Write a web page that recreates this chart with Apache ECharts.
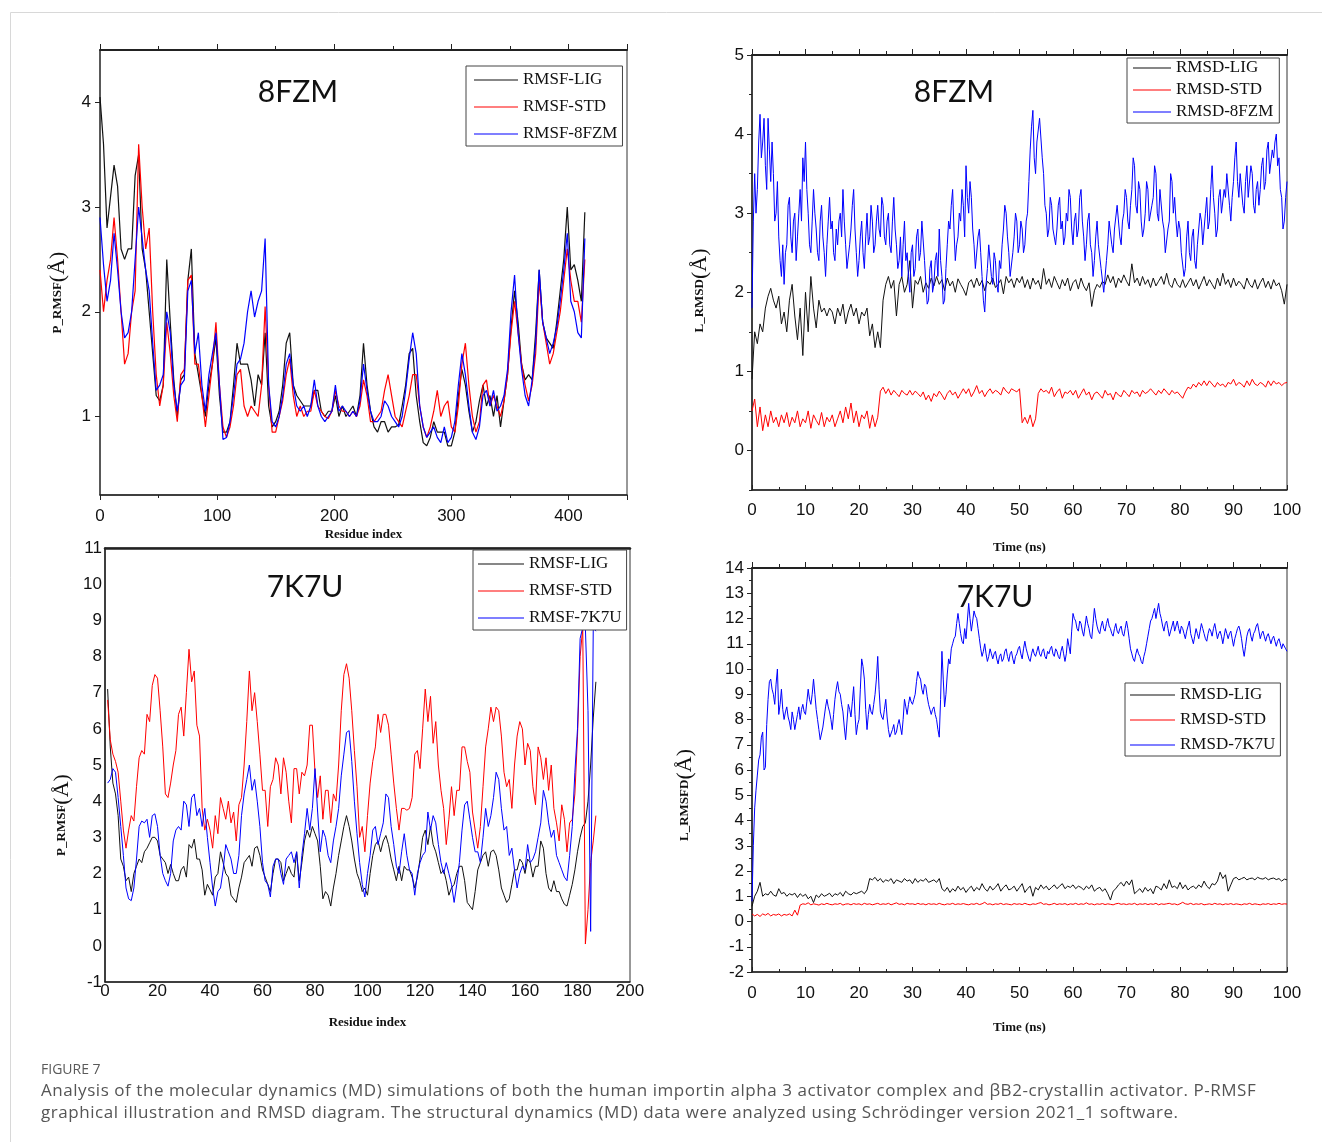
<!DOCTYPE html>
<html><head><meta charset="utf-8">
<script src="https://cdn.jsdelivr.net/npm/echarts@6.0.0/dist/echarts.min.js"></script>
<style>
html,body{margin:0;padding:0;background:#fff}
#wrap{position:relative;width:1322px;height:1142px}
#c{width:1322px;height:1142px}
#cap{position:absolute;left:41px;top:1059px;font-family:"Open Sans",sans-serif;color:#555;white-space:nowrap}
#cap .h{font-size:14px;line-height:20px;color:#5a5a5a}
#cap .t{font-size:17px;line-height:22px;letter-spacing:0.55px}
</style>
</head><body><div id="wrap"><div id="c"></div><div id="cap"></div></div>
<script>
// ---------- Panel A: P_RMSF 8FZM (residue index, every 3rd residue 0..414) ----------
const res8 = Array.from({length:139}, (_, i) => i * 3);
const rmsfLig8 = [4.05,3.6,2.8,3.1,3.4,3.2,2.6,2.5,2.6,2.6,
3.3,3.5,2.6,2.4,2.0,1.6,1.2,1.15,1.3,2.5,
1.9,1.35,1.0,1.35,1.4,2.3,2.6,1.6,1.4,1.2,
1.0,1.3,1.5,1.75,1.2,0.85,0.85,0.95,1.3,1.7,
1.5,1.5,1.5,1.35,1.1,1.4,1.3,1.8,1.1,0.9,
0.95,1.05,1.3,1.7,1.8,1.3,1.2,1.15,1.1,1.1,
1.1,1.25,1.25,1.05,1.0,1.05,1.05,1.2,1.0,1.1,
1.0,1.05,1.1,1.0,1.2,1.7,1.3,1.05,0.9,0.85,
0.95,0.95,0.85,0.9,0.9,0.92,1.1,1.3,1.6,1.65,
1.2,0.95,0.75,0.72,0.8,0.95,0.85,0.85,0.85,0.72,
0.72,0.85,1.2,1.45,1.3,1.05,0.85,0.95,1.15,1.3,
1.1,1.2,1.0,1.2,0.9,1.15,1.4,1.85,2.2,1.9,
1.5,1.35,1.4,1.35,1.8,2.4,1.9,1.75,1.7,1.65,
1.9,2.2,2.5,3.0,2.4,2.45,2.3,2.1,2.95];
const rmsfStd8 = [2.4,2.0,2.3,2.5,2.9,2.5,2.0,1.5,1.6,2.0,
2.2,3.6,3.0,2.6,2.8,2.0,1.4,1.1,1.3,1.9,
1.6,1.2,0.95,1.4,1.45,2.3,2.35,1.5,1.5,1.2,
0.9,1.2,1.5,1.9,1.3,0.9,0.8,0.9,1.1,1.4,
1.45,1.1,1.0,1.1,1.05,1.0,1.3,2.05,1.3,0.85,
0.85,1.0,1.15,1.4,1.55,1.2,1.0,1.1,1.0,1.05,
1.05,1.25,1.1,1.05,1.0,0.98,1.05,1.25,1.1,1.05,
1.05,1.0,1.05,1.0,1.1,1.35,1.2,0.95,0.95,1.0,
1.05,1.25,1.4,1.2,1.0,0.95,0.9,1.05,1.2,1.4,
1.4,1.1,0.9,0.8,0.9,1.05,1.25,1.0,1.1,1.15,
0.9,0.85,1.1,1.5,1.7,1.3,1.0,0.85,0.95,1.3,
1.35,1.1,1.2,1.1,1.0,1.15,1.4,1.8,2.1,1.8,
1.5,1.3,1.15,1.3,1.6,2.3,1.9,1.7,1.5,1.6,
1.8,2.0,2.3,2.6,2.3,2.1,2.1,1.9,2.5];
const rmsfProt8 = [2.9,2.45,2.1,2.3,2.75,2.4,2.0,1.75,1.8,2.0,
2.5,3.0,2.7,2.4,2.2,1.7,1.25,1.3,1.4,2.0,
1.8,1.3,1.05,1.3,1.35,2.2,2.3,1.6,1.8,1.3,
1.05,1.4,1.6,1.8,1.3,0.78,0.8,0.95,1.2,1.5,
1.55,1.7,2.0,2.2,1.95,2.1,2.2,2.7,1.3,0.95,
0.9,1.0,1.2,1.5,1.6,1.3,1.1,1.05,1.1,1.0,
1.1,1.35,1.1,1.0,0.95,1.0,1.05,1.3,1.05,1.1,
1.05,1.0,1.05,1.0,1.15,1.5,1.25,1.05,0.95,0.95,
1.0,1.15,1.1,1.0,0.95,0.9,1.0,1.25,1.55,1.8,
1.6,1.1,0.9,0.8,0.85,0.9,0.8,0.75,0.9,0.75,
0.8,0.95,1.3,1.6,1.4,1.1,0.85,0.78,0.9,1.2,
1.25,1.1,1.25,1.05,1.1,1.2,1.45,2.0,2.35,1.8,
1.45,1.2,1.1,1.35,1.7,2.4,1.9,1.75,1.6,1.7,
1.85,2.1,2.4,2.75,2.1,2.0,1.8,1.75,2.7];

// ---------- Panel B: L_RMSD 8FZM (time, ns) ----------
const timeNs = Array.from({length:201}, (_, i) => i * 0.5);     // 0.5 ns frames
const timeFine = Array.from({length:401}, (_, i) => i * 0.25);  // 0.25 ns frames
const rmsdLig8 = [0.9,1.5,1.35,1.6,1.5,1.8,1.95,2.05,1.9,1.8,
1.95,1.6,1.75,1.5,1.9,2.1,1.7,1.4,1.8,1.2,
2.0,1.5,2.2,1.8,1.55,1.9,1.75,1.8,1.7,1.8,
1.75,1.6,1.8,1.7,1.85,1.6,1.75,1.85,1.7,1.8,
1.6,1.75,1.7,1.8,1.45,1.6,1.3,1.5,1.3,1.9,
2.1,2.2,2.05,2.15,1.7,2.1,2.2,2.0,2.1,2.4,
1.8,2.15,2.1,2.2,2.0,2.12,2.05,2.18,2.08,2.2,
2.1,2.16,2.02,2.18,2.08,2.14,2.0,2.17,2.1,2.04,
1.96,2.12,2.16,2.06,2.18,2.08,2.15,2.02,2.14,2.1,
2.18,2.06,2.1,2.16,1.98,2.2,2.12,2.17,2.06,2.18,
2.12,2.2,2.06,2.16,2.04,2.18,2.1,2.15,2.04,2.3,
2.1,2.17,2.06,2.2,2.12,2.04,2.16,2.08,2.18,2.02,
2.12,2.16,2.04,2.18,2.08,2.02,2.12,1.82,2.02,2.1,
2.06,2.14,2.1,2.22,2.12,2.2,2.06,2.18,2.12,2.22,
2.14,2.08,2.36,2.12,2.18,2.08,2.2,2.1,2.16,2.06,
2.18,2.08,2.14,2.2,2.1,2.24,2.1,2.06,2.18,2.1,
2.06,2.16,2.06,2.12,2.18,2.08,2.16,2.04,2.12,2.2,
2.08,2.16,2.1,2.04,2.18,2.08,2.24,2.1,2.16,2.06,
2.18,2.08,2.14,2.1,2.04,2.18,2.1,2.06,2.16,2.04,
2.12,2.18,2.06,2.14,2.04,2.16,2.08,2.12,2.02,1.85,
2.1];
const rmsdStd8 = [0.5,0.65,0.3,0.55,0.25,0.45,0.3,0.5,0.35,0.42,
0.3,0.45,0.35,0.48,0.3,0.42,0.35,0.5,0.3,0.4,
0.35,0.5,0.28,0.45,0.38,0.32,0.48,0.3,0.42,0.36,
0.45,0.3,0.4,0.5,0.35,0.55,0.4,0.6,0.35,0.5,
0.3,0.45,0.4,0.5,0.28,0.45,0.3,0.42,0.75,0.8,
0.72,0.78,0.7,0.76,0.72,0.68,0.76,0.72,0.7,0.76,
0.7,0.75,0.72,0.68,0.74,0.64,0.7,0.62,0.72,0.68,
0.75,0.7,0.64,0.72,0.76,0.7,0.74,0.66,0.72,0.78,
0.72,0.78,0.68,0.74,0.82,0.72,0.76,0.68,0.74,0.78,
0.72,0.76,0.74,0.7,0.8,0.75,0.72,0.78,0.76,0.74,
0.78,0.35,0.42,0.34,0.45,0.3,0.4,0.72,0.78,0.74,
0.76,0.72,0.8,0.68,0.74,0.78,0.66,0.74,0.72,0.76,
0.7,0.76,0.66,0.72,0.78,0.7,0.74,0.64,0.72,0.74,
0.7,0.66,0.76,0.7,0.72,0.64,0.74,0.7,0.68,0.76,
0.72,0.68,0.76,0.72,0.74,0.68,0.76,0.72,0.74,0.78,
0.74,0.7,0.76,0.72,0.78,0.74,0.7,0.76,0.72,0.74,
0.7,0.66,0.74,0.8,0.78,0.84,0.8,0.86,0.82,0.88,
0.82,0.88,0.84,0.8,0.86,0.82,0.84,0.8,0.86,0.84,
0.9,0.82,0.86,0.84,0.8,0.88,0.82,0.9,0.84,0.82,
0.86,0.84,0.8,0.88,0.82,0.88,0.84,0.86,0.82,0.85,
0.86];
const rmsdProt8 = [1.8,2.9,3.5,3.0,3.3,3.9,4.25,3.7,3.9,4.2,3.6,3.3,4.2,3.8,3.4,3.9,3.5,2.9,3.0,3.4,
2.7,2.4,2.2,2.6,2.1,2.5,2.6,3.1,3.2,2.7,2.5,2.9,3.0,2.4,2.7,3.0,3.3,2.9,3.7,3.4,
3.9,3.3,3.0,2.6,2.5,2.9,3.3,3.0,2.8,2.5,2.4,2.9,3.1,2.7,2.5,2.2,2.6,2.9,3.2,2.8,
2.9,2.5,2.4,2.8,2.6,2.9,3.0,2.7,3.3,2.9,2.6,2.3,2.3,2.6,2.8,3.1,3.3,2.8,2.5,2.2,
2.4,2.7,2.9,2.5,2.3,2.7,3.0,2.6,2.7,3.1,2.9,2.5,2.6,2.9,3.1,2.8,2.7,3.2,3.1,2.7,
2.6,2.9,3.0,2.6,2.5,2.9,3.2,2.8,2.6,2.3,2.4,2.7,2.2,2.6,2.9,2.4,2.5,2.2,2.0,2.5,
2.6,2.2,2.3,2.7,2.8,2.4,2.5,2.9,2.9,2.4,2.1,1.85,1.9,2.3,2.4,2.0,2.1,2.4,2.5,2.2,
2.8,2.4,2.2,1.85,1.9,2.3,2.6,2.9,2.8,3.1,3.3,2.8,2.4,2.6,2.7,3.0,2.9,3.3,3.1,2.7,
3.6,3.2,3.0,3.4,3.2,2.8,2.6,2.3,2.3,2.7,2.8,2.5,2.2,1.9,1.75,2.1,2.3,2.6,2.6,2.2,
2.1,2.5,2.4,2.1,2.0,2.4,2.3,2.6,2.8,3.1,3.0,2.7,2.5,2.2,2.2,2.5,2.7,3.0,2.9,2.5,
2.6,2.9,2.8,2.5,2.6,2.9,3.0,3.4,3.8,4.1,4.3,3.7,3.5,3.9,3.9,4.2,4.2,3.7,3.5,3.1,
3.0,2.7,2.8,3.2,3.1,2.8,2.7,2.6,2.8,3.1,3.2,2.8,2.9,2.6,2.7,3.0,2.9,3.3,3.2,2.8,
2.6,2.9,3.0,2.7,2.8,3.2,3.3,2.9,2.7,2.4,2.6,2.9,3.0,2.6,2.5,2.2,2.4,2.7,2.9,2.6,
2.6,2.3,2.3,2.0,2.0,2.4,2.6,2.9,2.9,2.6,2.5,2.8,2.8,3.1,3.1,2.7,2.6,2.9,3.0,3.3,
3.2,2.9,2.8,3.1,3.3,3.7,3.6,3.1,3.0,3.4,3.3,2.9,2.7,2.8,3.0,3.4,3.3,2.9,2.9,3.1,
3.2,3.6,3.5,3.0,2.9,3.3,3.3,2.9,2.8,2.5,2.5,2.8,2.9,3.5,3.4,3.0,3.2,2.9,2.7,2.9,
2.8,2.5,2.5,2.2,2.3,2.7,2.9,2.5,2.4,2.7,2.8,2.4,2.3,2.6,2.6,3.0,2.9,2.6,2.6,3.0,
3.2,2.8,2.9,3.3,3.6,3.2,3.0,2.7,2.8,3.2,3.3,3.0,3.0,3.3,3.2,3.5,3.5,3.1,2.9,3.2,
3.4,3.7,3.9,3.4,3.2,3.5,3.5,3.1,3.0,3.4,3.6,3.2,3.2,3.6,3.5,3.1,3.0,3.3,3.4,3.1,
3.3,3.6,3.7,3.3,3.4,3.8,3.9,3.5,3.5,3.8,3.7,3.9,4.0,3.6,3.7,3.3,3.2,2.8,2.9,3.2,
3.4];

// ---------- Panel C: P_RMSF 7K7U (residue 1..187) ----------
const res7 = Array.from({length:187}, (_, i) => i + 1);
const rmsfLig7 = [7.1,5.5,4.5,4.2,3.6,2.4,2.2,1.8,1.9,1.5,
2.0,2.2,2.4,2.3,2.6,2.7,2.85,3.0,3.0,2.9,
2.5,2.4,2.3,2.0,2.25,2.0,1.8,1.8,2.1,2.2,
1.9,2.8,2.7,2.95,2.4,2.4,2.1,1.4,1.7,1.55,
1.4,1.9,2.0,2.6,2.3,2.0,1.9,1.4,1.3,1.2,
1.6,1.9,2.3,2.4,2.5,2.2,2.7,2.75,2.5,2.1,
1.9,1.7,1.5,2.0,2.4,2.4,2.3,1.8,2.0,2.2,
2.0,1.9,2.6,1.8,2.3,2.9,3.2,3.0,3.3,3.1,
2.9,2.2,1.3,1.5,1.4,1.1,1.6,2.0,2.5,2.9,
3.3,3.6,3.3,2.9,2.4,2.0,1.8,1.5,1.6,1.4,
2.0,2.5,2.8,2.9,2.6,2.9,3.05,2.8,2.4,2.1,
1.8,2.2,1.8,2.2,2.1,2.1,1.9,1.6,1.9,2.4,
3.0,3.2,2.8,3.3,2.8,2.6,2.3,2.0,2.1,1.8,
1.4,1.6,1.7,2.0,2.2,2.2,1.8,1.2,1.1,1.0,
1.5,2.1,2.3,2.5,2.6,2.2,2.6,2.65,2.5,2.1,
1.6,1.4,1.2,1.3,1.7,2.1,2.1,2.4,2.3,2.0,
2.4,2.3,1.9,2.2,2.2,2.9,2.7,2.0,1.6,1.5,
1.8,1.5,1.5,1.3,1.15,1.1,1.4,1.7,2.1,2.6,
3.0,3.3,3.4,4.0,5.0,6.3,7.3];
const rmsfStd7 = [6.8,5.7,5.3,5.1,4.8,4.0,3.2,2.7,3.2,3.6,
3.45,4.4,5.2,5.4,5.3,6.4,6.2,7.2,7.5,7.4,
6.5,5.5,4.2,4.1,4.5,5.0,5.4,6.4,6.6,5.8,
7.0,8.2,7.3,7.6,6.1,5.8,3.8,3.2,3.5,3.2,
2.7,3.6,3.1,4.1,3.8,3.5,4.0,3.4,3.7,2.9,
3.9,4.1,5.0,6.2,7.6,6.5,7.0,6.2,5.3,4.3,
4.3,3.3,4.4,4.6,5.2,5.0,4.2,5.2,4.8,4.0,
3.4,4.9,4.9,4.2,4.8,4.7,5.0,6.1,6.1,4.8,
4.1,4.7,3.5,4.3,4.3,3.4,4.2,4.0,5.0,6.5,
7.5,7.8,7.4,6.5,5.4,4.4,3.0,3.3,2.6,3.6,
4.5,5.1,5.5,6.4,5.9,6.4,6.4,6.1,5.3,4.5,
3.8,3.2,3.8,3.8,3.75,3.8,4.1,5.3,5.4,4.9,
6.0,7.1,6.2,6.9,5.6,6.2,5.0,4.3,3.8,2.8,
3.5,4.4,3.6,4.3,4.3,5.5,5.5,5.1,4.8,3.7,
3.2,2.7,3.3,4.4,5.5,6.0,6.6,6.2,6.6,6.5,
5.8,4.8,4.4,4.6,3.8,5.0,5.8,6.2,6.0,5.0,
5.6,5.4,4.4,3.9,5.5,5.2,4.6,5.2,4.3,5.0,
3.8,3.4,2.9,3.9,3.5,2.6,3.4,3.5,4.2,5.8,
8.0,8.8,0.05,1.0,2.3,2.9,3.6];
const rmsfProt7 = [4.5,4.6,4.9,4.8,4.1,3.3,2.5,1.6,1.3,1.25,
1.6,2.4,3.3,3.45,3.4,3.5,3.0,3.6,3.65,3.3,
2.5,2.0,1.8,1.65,2.0,2.9,3.2,3.3,3.2,4.0,
3.9,3.3,4.1,4.2,3.6,3.8,3.3,3.8,3.0,2.3,
1.6,1.1,1.5,1.6,2.1,2.8,2.6,2.4,2.0,2.0,
2.5,3.6,4.2,4.6,5.0,4.3,4.6,4.0,3.3,2.3,
1.8,1.7,1.35,2.2,2.4,2.4,2.0,1.7,2.4,2.5,
2.6,2.3,2.6,1.6,2.5,3.1,3.8,3.2,3.8,4.9,
3.7,2.6,3.2,3.0,2.5,2.3,2.9,3.3,3.8,4.7,
5.3,5.9,5.95,5.1,4.0,3.1,2.3,1.7,1.35,2.0,
2.5,3.2,3.3,2.8,3.1,3.4,4.2,4.1,3.3,2.8,
2.2,2.0,2.6,3.1,2.5,2.1,2.0,1.4,2.0,2.3,
2.5,2.6,3.7,3.2,3.6,3.4,2.8,2.3,2.0,2.3,
2.0,1.7,1.2,1.7,2.3,3.2,3.9,4.0,3.5,3.0,
2.6,2.6,2.3,3.0,3.8,3.3,3.6,4.1,4.8,4.6,
3.8,3.2,3.3,2.5,2.7,2.1,1.6,2.0,2.2,2.1,
2.8,2.3,2.4,2.6,3.0,3.4,4.3,4.0,3.4,3.0,
3.2,2.5,2.3,2.1,1.9,1.8,2.5,3.3,4.8,6.0,
8.5,8.8,8.8,6.5,0.4,8.8,8.7];

// ---------- Panel D: L_RMSD 7K7U (time, ns) ----------
const rmsdLig7 = [0.6,1.0,1.2,1.55,1.0,1.1,1.05,1.2,1.05,1.0,
1.3,1.1,1.15,1.0,1.1,1.05,1.12,0.95,1.1,1.0,
1.08,0.9,1.0,0.75,1.05,0.95,1.1,1.0,1.05,1.12,
0.98,1.1,1.05,1.15,1.0,1.2,1.1,1.05,1.15,1.1,
1.15,1.2,1.1,1.25,1.7,1.65,1.75,1.6,1.7,1.55,
1.65,1.6,1.7,1.5,1.65,1.6,1.55,1.7,1.6,1.65,
1.5,1.7,1.55,1.65,1.6,1.7,1.55,1.6,1.65,1.55,
1.7,1.3,1.2,1.35,1.15,1.3,1.2,1.4,1.25,1.35,
1.15,1.3,1.4,1.2,1.35,1.25,1.5,1.3,1.2,1.4,
1.25,1.35,1.5,1.2,1.35,1.45,1.25,1.3,1.4,1.2,
1.35,1.5,1.15,1.3,1.4,1.0,1.35,1.25,1.45,1.3,
1.4,1.25,1.35,1.45,1.3,1.4,1.5,1.3,1.4,1.35,
1.45,1.3,1.4,1.35,1.25,1.4,1.3,1.45,1.2,1.3,
1.35,1.2,1.3,1.1,0.85,1.2,1.3,1.45,1.55,1.4,
1.6,1.45,1.65,1.1,1.2,1.3,1.15,1.35,1.2,1.3,
1.1,1.4,1.35,1.25,1.5,1.3,1.65,1.35,1.4,1.3,
1.55,1.3,1.45,1.25,1.35,1.4,1.3,1.45,1.35,1.6,
1.4,1.3,1.5,1.45,1.6,1.95,1.7,1.85,1.2,1.45,
1.7,1.75,1.65,1.7,1.75,1.65,1.7,1.72,1.65,1.75,
1.7,1.68,1.74,1.65,1.7,1.72,1.66,1.7,1.6,1.68,
1.65];
const rmsdStd7 = [0.3,0.22,0.28,0.2,0.3,0.25,0.32,0.22,0.28,0.25,
0.3,0.22,0.28,0.25,0.3,0.22,0.45,0.25,0.65,0.7,
0.68,0.74,0.66,0.7,0.68,0.65,0.7,0.67,0.72,0.68,
0.66,0.7,0.68,0.72,0.65,0.69,0.7,0.66,0.71,0.68,
0.7,0.66,0.72,0.68,0.7,0.66,0.69,0.72,0.67,0.7,
0.68,0.72,0.66,0.7,0.74,0.68,0.7,0.66,0.72,0.69,
0.7,0.67,0.72,0.68,0.7,0.66,0.71,0.68,0.7,0.67,
0.72,0.68,0.66,0.7,0.68,0.72,0.67,0.7,0.68,0.71,
0.68,0.66,0.7,0.68,0.72,0.67,0.7,0.76,0.68,0.7,
0.66,0.7,0.68,0.72,0.67,0.7,0.68,0.66,0.71,0.68,
0.7,0.67,0.72,0.68,0.66,0.7,0.68,0.72,0.75,0.68,
0.7,0.66,0.68,0.72,0.67,0.7,0.68,0.71,0.66,0.7,
0.68,0.72,0.67,0.7,0.68,0.74,0.68,0.7,0.66,0.7,
0.68,0.71,0.67,0.7,0.68,0.66,0.7,0.72,0.68,0.7,
0.67,0.7,0.68,0.72,0.66,0.7,0.68,0.71,0.67,0.7,
0.68,0.72,0.66,0.7,0.68,0.7,0.72,0.68,0.7,0.66,
0.7,0.76,0.7,0.68,0.72,0.67,0.7,0.68,0.71,0.66,
0.68,0.7,0.67,0.72,0.68,0.7,0.66,0.7,0.68,0.71,
0.67,0.7,0.68,0.66,0.7,0.68,0.72,0.67,0.7,0.68,
0.66,0.7,0.68,0.71,0.67,0.7,0.68,0.72,0.68,0.7,
0.69];
const rmsdProt7 = [0.8,3.0,4.5,5.2,5.8,6.4,6.6,7.3,7.5,6.0,6.1,7.8,8.8,9.5,9.6,9.2,9.0,8.6,9.4,10.0,
8.2,8.6,9.2,8.4,8.0,8.3,8.5,8.1,7.9,7.6,8.3,8.0,7.6,7.9,8.2,8.5,8.0,8.4,8.6,8.3,
8.2,8.7,9.2,8.8,8.6,9.0,9.6,9.0,8.4,8.0,7.6,7.2,7.2,7.7,8.1,8.5,8.8,8.5,8.3,8.0,
7.6,8.2,8.8,9.2,9.5,9.1,9.0,8.6,8.3,7.7,7.2,7.9,8.6,8.4,8.1,8.7,9.3,8.2,7.4,7.8,
8.0,9.2,10.4,10.1,9.6,8.4,7.6,8.2,8.6,8.3,8.2,8.6,9.0,9.6,10.5,9.2,8.3,8.1,8.0,8.4,
8.8,8.1,7.6,7.3,7.3,7.6,7.8,7.4,7.5,7.8,8.0,7.7,7.4,8.0,8.8,8.5,8.2,8.6,8.9,8.7,
8.6,8.8,9.0,9.5,9.9,9.7,9.6,9.2,9.0,9.4,9.3,8.9,8.6,8.4,8.2,8.4,8.5,8.2,8.0,7.6,
7.3,8.8,10.7,9.6,8.5,9.0,9.8,10.4,10.2,10.8,11.0,11.2,11.3,11.8,12.2,11.8,11.4,11.1,11.0,11.6,
11.2,11.9,12.6,12.0,11.5,11.9,12.3,12.1,12.0,11.6,11.2,10.8,10.5,10.7,11.0,10.6,10.3,10.5,10.8,10.6,
10.4,10.6,10.7,10.4,10.2,10.5,10.6,10.3,10.4,10.7,10.8,10.5,10.3,10.6,10.7,10.4,10.2,10.5,10.6,10.8,
10.9,10.6,10.4,10.8,11.1,10.8,10.6,10.4,10.3,10.6,10.8,10.6,10.5,10.7,10.9,10.6,10.5,10.7,10.8,10.5,
10.4,10.7,10.6,10.8,10.9,10.6,10.5,10.8,10.7,10.5,10.4,10.7,10.9,10.6,10.3,10.6,11.2,10.9,10.6,11.5,
12.2,12.0,11.9,11.6,11.5,11.9,11.8,11.5,11.3,11.7,12.1,11.8,11.6,11.3,11.2,11.8,12.4,12.0,11.7,11.5,
11.4,11.7,11.9,11.6,11.5,11.8,12.0,11.7,11.6,11.4,11.3,11.6,11.8,11.5,11.4,11.6,11.7,11.4,11.3,11.6,
11.9,11.6,11.2,10.8,10.6,10.4,10.3,10.6,10.8,10.6,10.5,10.3,10.2,10.5,10.7,11.0,11.3,11.6,11.9,12.0,
12.2,12.4,12.0,12.3,12.6,12.2,12.0,11.7,11.5,11.8,11.9,11.6,11.3,11.5,11.7,11.9,11.5,11.7,11.9,11.6,
11.4,11.7,11.6,11.4,11.2,11.5,11.7,11.9,11.4,11.2,11.0,11.3,11.6,11.4,11.2,11.5,11.8,11.6,11.4,11.2,
11.1,11.4,11.6,11.5,11.3,11.6,11.8,11.5,11.2,11.4,11.5,11.3,11.0,11.3,11.6,11.4,11.2,11.4,11.5,11.2,
10.9,11.2,11.4,11.6,11.7,11.5,11.2,10.8,10.5,10.9,11.3,11.5,11.6,11.3,11.1,11.4,11.5,11.7,11.8,11.5,
11.2,11.4,11.5,11.3,11.1,11.3,11.4,11.2,11.0,11.2,11.3,11.1,10.9,11.1,11.2,11.0,10.8,11.0,11.0,10.8,
10.7];

// ---------- Tick label values and texts ----------
const yTicksA = [1, 2, 3, 4];
const yTicksB = [0, 1, 2, 3, 4, 5];
const panelTitles = ['8FZM', '8FZM', '7K7U', '7K7U'];
const legendA = ['RMSF-LIG', 'RMSF-STD', 'RMSF-8FZM'];
const legendB = ['RMSD-LIG', 'RMSD-STD', 'RMSD-8FZM'];
const legendC = ['RMSF-LIG', 'RMSF-STD', 'RMSF-7K7U'];
const legendD = ['RMSD-LIG', 'RMSD-STD', 'RMSD-7K7U'];
const captionHead = 'FIGURE 7';
const captionLines = [
  'Analysis of the molecular dynamics (MD) simulations of both the human importin alpha 3 activator complex and \u03b2B2-crystallin activator. P-RMSF',
  'graphical illustration and RMSD diagram. The structural dynamics (MD) data were analyzed using Schr\u00f6dinger version 2021_1 software.'
];

// ---------- caption (real text) ----------
(function () {
  const cap = document.getElementById('cap');
  const h = document.createElement('div'); h.className = 'h'; h.textContent = captionHead; cap.appendChild(h);
  captionLines.forEach(t => { const d = document.createElement('div'); d.className = 't'; d.textContent = t; cap.appendChild(d); });
})();

// ---------- helpers ----------
const pairs = (xs, ys) => ys.map((v, i) => [xs[i], v]);
const AX = '#222';
const BLACK = '#111', RED = '#ff0000', BLUE = '#0000ff';
const tickFont = {fontFamily: '"Liberation Sans", Arial, sans-serif', fontSize: 17, color: '#111'};
const nameFont = {fontFamily: '"Liberation Serif", "Times New Roman", serif', fontWeight: 'bold', fontSize: 13, color: '#111'};
const yName = (pad) => ({
  rich: {
    a: {fontFamily: '"Liberation Serif", serif', fontWeight: 'bold', fontSize: 13, color: '#111'},
    b: {fontFamily: '"Liberation Serif", serif', fontSize: 22, color: '#111'}
  },
  padding: [0, pad, 0, 0]
});
const noSplit = {splitLine: {show: false}, minorSplitLine: {show: false}};
const bottomLine = (w) => ({onZero: false, lineStyle: {color: AX, width: w}});

const xAxis = [
  // A
  Object.assign({gridIndex: 0, type: 'value', min: 0, max: 450, interval: 100, position: 'bottom',
    axisLine: bottomLine(1.5), axisTick: {length: 5, lineStyle: {color: AX}},
    minorTick: {show: true, splitNumber: 2, length: 3, lineStyle: {color: AX}},
    axisLabel: Object.assign({margin: 13, showMaxLabel: false}, tickFont),
    name: 'Residue index', nameLocation: 'middle', nameGap: 33, nameTextStyle: nameFont}, noSplit),
  Object.assign({gridIndex: 0, type: 'value', min: 0, max: 450, interval: 100, position: 'top',
    axisLine: bottomLine(2), axisTick: {length: 6, lineStyle: {color: AX}},
    minorTick: {show: true, splitNumber: 2, length: 4, lineStyle: {color: AX}},
    axisLabel: {show: false}}, noSplit),
  // B
  Object.assign({gridIndex: 1, type: 'value', min: 0, max: 100, interval: 10, position: 'bottom',
    axisLine: bottomLine(1.5), axisTick: {inside: true, length: 5, lineStyle: {color: AX}},
    minorTick: {show: true, splitNumber: 2, length: 3, lineStyle: {color: AX}},
    axisLabel: Object.assign({margin: 12}, tickFont),
    name: 'Time (ns)', nameLocation: 'middle', nameGap: 51, nameTextStyle: nameFont}, noSplit),
  Object.assign({gridIndex: 1, type: 'value', min: 0, max: 100, interval: 10, position: 'top',
    axisLine: bottomLine(2), axisTick: {length: 6, lineStyle: {color: AX}},
    minorTick: {show: true, splitNumber: 2, length: 4, lineStyle: {color: AX}},
    axisLabel: {show: false}}, noSplit),
  // C
  Object.assign({gridIndex: 2, type: 'value', min: 0, max: 200, interval: 20, position: 'bottom',
    axisLine: bottomLine(1.5), axisTick: {show: false},
    axisLabel: Object.assign({margin: 1}, tickFont),
    name: 'Residue index', nameLocation: 'middle', nameGap: 34, nameTextStyle: nameFont}, noSplit),
  Object.assign({gridIndex: 2, type: 'value', min: 0, max: 200, interval: 20, position: 'top',
    axisLine: bottomLine(2.5), axisTick: {show: false},
    axisLabel: {show: false}}, noSplit),
  // D
  Object.assign({gridIndex: 3, type: 'value', min: 0, max: 100, interval: 10, position: 'bottom',
    axisLine: bottomLine(1.5), axisTick: {inside: true, length: 5, lineStyle: {color: AX}},
    minorTick: {show: true, splitNumber: 2, length: 3, lineStyle: {color: AX}},
    axisLabel: Object.assign({margin: 13}, tickFont),
    name: 'Time (ns)', nameLocation: 'middle', nameGap: 49, nameTextStyle: nameFont}, noSplit),
  Object.assign({gridIndex: 3, type: 'value', min: 0, max: 100, interval: 10, position: 'top',
    axisLine: bottomLine(2), axisTick: {length: 6, lineStyle: {color: AX}},
    minorTick: {show: true, splitNumber: 2, length: 4, lineStyle: {color: AX}},
    axisLabel: {show: false}}, noSplit)
];

const yAxis = [
  // A (0)
  Object.assign({gridIndex: 0, type: 'value', min: 0.25, max: 4.5, position: 'left',
    axisLine: {show: true, onZero: false, lineStyle: {color: '#444', width: 1.5}},
    axisTick: {show: true, length: 5, customValues: yTicksA, lineStyle: {color: AX}},
    axisLabel: Object.assign({margin: 9, customValues: yTicksA}, tickFont),
    name: '{a|P_RMSF}{b|(Å)}', nameLocation: 'middle', nameRotate: 90, nameGap: 31, nameTextStyle: yName(40)}, noSplit),
  // B (1) labels & major ticks
  Object.assign({gridIndex: 1, type: 'value', min: -0.5, max: 5, position: 'left',
    axisLine: {show: true, onZero: false, lineStyle: {color: AX, width: 1.5}},
    axisTick: {show: true, length: 5, customValues: yTicksB, lineStyle: {color: AX}},
    axisLabel: Object.assign({margin: 8, customValues: yTicksB}, tickFont),
    name: '{a|L_RMSD}{b|(Å)}', nameLocation: 'middle', nameRotate: 90, nameGap: 41, nameTextStyle: yName(36)}, noSplit),
  // B (2) half-step minor ticks
  Object.assign({gridIndex: 1, type: 'value', min: -0.5, max: 5, interval: 0.5, position: 'left',
    axisLine: {show: false, onZero: false}, axisTick: {show: true, length: 3, lineStyle: {color: AX}},
    axisLabel: {show: false}}, noSplit),
  // C (3)
  Object.assign({gridIndex: 2, type: 'value', min: -1, max: 11, interval: 1, position: 'left',
    axisLine: {show: true, onZero: false, lineStyle: {color: AX, width: 1.5}}, axisTick: {show: false},
    axisLabel: Object.assign({margin: 3}, tickFont),
    name: '{a|P_RMSF}{b|(Å)}', nameLocation: 'middle', nameRotate: 90, nameGap: 32, nameTextStyle: yName(100)}, noSplit),
  // D (4)
  Object.assign({gridIndex: 3, type: 'value', min: -2, max: 14, interval: 1, position: 'left',
    axisLine: {show: true, onZero: false, lineStyle: {color: AX, width: 1.5}},
    axisTick: {show: true, length: 5, lineStyle: {color: AX}},
    minorTick: {show: true, splitNumber: 2, length: 3, lineStyle: {color: AX}},
    axisLabel: Object.assign({margin: 8}, tickFont),
    name: '{a|L_RMSFD}{b|(Å)}', nameLocation: 'middle', nameRotate: 90, nameGap: 56, nameTextStyle: yName(50)}, noSplit)
];

const gridBox = {show: true, borderColor: '#333', borderWidth: 1, backgroundColor: 'transparent', outerBoundsMode: 'none', containLabel: false};
const grid = [
  Object.assign({left: 100, top: 50, width: 527, height: 445}, gridBox),
  Object.assign({left: 752, top: 55, width: 535, height: 435}, gridBox),
  Object.assign({left: 105, top: 548, width: 525, height: 434}, gridBox),
  Object.assign({left: 752, top: 568, width: 535, height: 404}, gridBox)
];

function line(name, color, xi, yi, data, w) {
  return {type: 'line', name: name, xAxisIndex: xi, yAxisIndex: yi, data: data, color: color,
    symbol: 'none', showSymbol: false, lineStyle: {color: color, width: w || 1}, itemStyle: {color: color},
    sampling: null, animation: false, emphasis: {disabled: true}, silent: true};
}

const series = [
  line(legendA[0], BLACK, 0, 0, pairs(res8, rmsfLig8), 1.2),
  line(legendA[1], RED, 0, 0, pairs(res8, rmsfStd8), 1.2),
  line(legendA[2], BLUE, 0, 0, pairs(res8, rmsfProt8), 1.2),
  line(legendB[0], BLACK, 2, 1, pairs(timeNs, rmsdLig8)),
  line(legendB[1], RED, 2, 1, pairs(timeNs, rmsdStd8)),
  line(legendB[2], BLUE, 2, 1, pairs(timeFine, rmsdProt8)),
  line(legendC[0], BLACK, 4, 3, pairs(res7, rmsfLig7)),
  line(legendC[1], RED, 4, 3, pairs(res7, rmsfStd7)),
  line(legendC[2], BLUE, 4, 3, pairs(res7, rmsfProt7)),
  line(legendD[0], BLACK, 6, 4, pairs(timeNs, rmsdLig7)),
  line(legendD[1], RED, 6, 4, pairs(timeNs, rmsdStd7)),
  line(legendD[2], BLUE, 6, 4, pairs(timeFine, rmsdProt7))
];

function legend(data, left, top, gap, itemW, pad) {
  return {data: data, orient: 'vertical', left: left, top: top, itemGap: gap, itemWidth: itemW, itemHeight: 1,
    icon: 'rect', selectedMode: false, backgroundColor: '#fff', borderColor: '#444', borderWidth: 1, padding: pad,
    textStyle: {fontFamily: '"Liberation Serif", "Times New Roman", serif', fontSize: 17, color: '#111', lineHeight: 18}};
}

const titleText = (t, x, y) => ({type: 'text', x: x, y: y, silent: true,
  style: {text: t, fontFamily: 'Lato, "Open Sans", sans-serif', fontSize: 30, fill: '#111', align: 'center', verticalAlign: 'middle'}});

const option = {
  animation: false,
  backgroundColor: '#fff',
  grid: grid,
  xAxis: xAxis,
  yAxis: yAxis,
  series: series,
  legend: [
    legend(legendA, 466, 66, 9, 44, [5, 5, 3, 8]),
    legend(legendB, 1127, 58, 4, 38, [1, 6, 2, 6]),
    legend(legendC, 473, 550, 9, 46, [5, 5, 3, 5]),
    legend(legendD, 1125, 683, 7, 45, [3, 5, 2, 5])
  ],
  graphic: [
    {type: 'polyline', silent: true, shape: {points: [[10.5, 1142], [10.5, 12.5], [1322, 12.5]]},
      style: {stroke: '#d8d8d8', lineWidth: 1, fill: null}},
    titleText(panelTitles[0], 298, 92),
    titleText(panelTitles[1], 954, 92),
    titleText(panelTitles[2], 305, 587),
    titleText(panelTitles[3], 995, 597)
  ]
};

const chart = echarts.init(document.getElementById('c'), null, {renderer: 'canvas', width: 1322, height: 1142});
chart.setOption(option);
</script>
</body></html>
